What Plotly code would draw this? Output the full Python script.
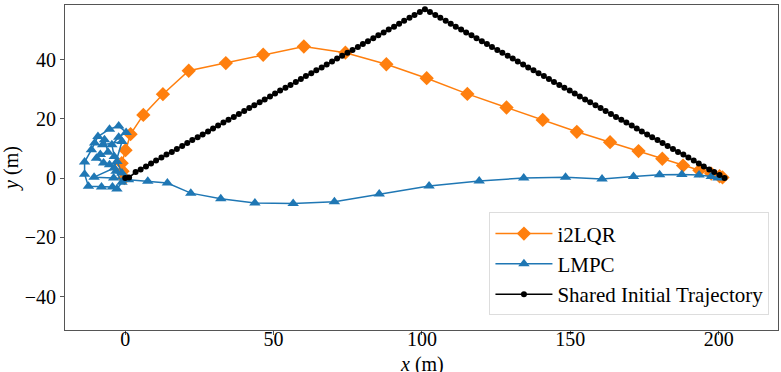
import plotly.graph_objects as go

# i2LQR trajectory (orange diamonds)
i2lqr_x = [-0.3, -0.9, -1.2, 0.1, 1.8, 6.1, 12.7, 21.4, 33.9, 46.5, 60.2, 74.2, 88.0, 101.6,
           115.3, 128.5, 140.7, 152.2, 163.4, 173.0, 181.0, 188.0, 193.5, 197.5, 200.3, 201.3]
i2lqr_y = [0.0, 2.3, 5.0, 9.4, 14.8, 21.3, 28.3, 36.2, 38.8, 41.6, 44.4, 42.3, 38.4, 33.7,
           28.4, 23.8, 19.6, 15.6, 12.1, 9.1, 6.5, 4.2, 2.6, 1.5, 0.6, 0.2]

# LMPC trajectory (blue triangles)
lmpc_x = [0.0, -1.1, -2.8, -3.7, -4.5, -2.2, 0.3, -2.2, -5.3, -9.2, -10.3, -11.4, -13.7, -13.7,
          -12.4, -8.0, -4.3, -2.8, -1.1, -3.1, -5.3, -7.3, -9.7, -8.4, -5.8, -7.0, -7.6, -1.1,
          -3.7, -10.5, -3.9, 1.1, 7.6, 14.2, 22.1, 32.2, 43.7, 56.6, 70.5, 85.6, 102.4, 119.3,
          134.3, 148.4, 160.7, 171.3, 180.1, 187.6, 193.4, 197.5, 199.8]
lmpc_y = [0.0, 1.7, 5.6, 7.3, 11.2, 13.8, 15.4, 17.6, 16.5, 14.0, 11.8, 9.5, 5.4, 1.3,
          -2.8, -3.0, -3.0, -3.7, -1.4, 2.3, 4.5, 5.1, 6.7, 7.9, 8.7, 12.9, 11.2, 12.3,
          3.4, 0.3, 0.0, -0.6, -1.1, -1.7, -5.1, -7.0, -8.4, -8.6, -8.0, -5.4, -2.7, -1.0,
          0.0, 0.3, -0.3, 0.5, 1.1, 1.2, 1.0, 0.5, 0.0]

# Shared initial trajectory (black dots)
init_x = [0.0, 1.3, 3.5, 5.2, 7.0, 8.7, 10.4, 12.2, 13.9, 15.7, 17.4, 19.2, 20.9, 22.6, 24.4,
          26.1, 27.9, 29.6, 31.3, 33.1, 34.8, 36.6, 38.3, 40.1, 41.8, 43.5, 45.3, 47.0, 48.8,
          50.5, 52.2, 54.0, 55.7, 57.5, 59.2, 60.9, 62.7, 64.4, 66.2, 67.9, 69.7, 71.4, 73.1,
          74.9, 76.6, 78.4, 80.1, 81.8, 83.6, 85.3, 87.1, 88.8, 90.6, 92.3, 94.0, 95.8, 97.5,
          99.3, 101.0, 102.7, 104.5, 106.2, 108.0, 109.7, 111.4, 113.2, 114.9, 116.7, 118.4,
          120.2, 121.9, 123.6, 125.4, 127.1, 128.9, 130.6, 132.3, 134.1, 135.8, 137.6, 139.3,
          141.1, 142.8, 144.5, 146.3, 148.0, 149.8, 151.5, 153.2, 155.0, 156.7, 158.5, 160.2,
          161.9, 163.7, 165.4, 167.2, 168.9, 170.7, 172.4, 174.1, 175.9, 177.6, 179.4, 181.1,
          182.8, 184.6, 186.3, 188.1, 189.8, 191.6, 193.3, 195.0, 196.8, 198.5, 200.3, 202.0]
init_y = [0.0, 0.2, 2.0, 2.9, 3.9, 4.9, 5.9, 6.9, 7.9, 8.8, 9.8, 10.8, 11.8, 12.8, 13.8,
          14.7, 15.7, 16.7, 17.7, 18.7, 19.7, 20.6, 21.6, 22.6, 23.6, 24.6, 25.6, 26.5, 27.5,
          28.5, 29.5, 30.5, 31.4, 32.4, 33.4, 34.4, 35.4, 36.4, 37.3, 38.3, 39.3, 40.3, 41.3,
          42.3, 43.2, 44.2, 45.2, 46.2, 47.2, 48.2, 49.1, 50.1, 51.1, 52.1, 53.1, 54.1, 55.0,
          56.0, 57.0, 56.0, 55.0, 54.1, 53.1, 52.1, 51.1, 50.1, 49.1, 48.2, 47.2,
          46.2, 45.2, 44.2, 43.2, 42.3, 41.3, 40.3, 39.3, 38.3, 37.3, 36.4, 35.4,
          34.4, 33.4, 32.4, 31.4, 30.5, 29.5, 28.5, 27.5, 26.5, 25.6, 24.6, 23.6,
          22.6, 21.6, 20.6, 19.7, 18.7, 17.7, 16.7, 15.7, 14.7, 13.8, 12.8, 11.8,
          10.8, 9.8, 8.8, 7.9, 6.9, 5.9, 4.9, 3.9, 2.9, 2.0, 1.0, 0.0]

x_ticks = [0, 50, 100, 150, 200]
y_ticks = [-40, -20, 0, 20, 40]

font_family = "Liberation Serif, Times New Roman, serif"

fig = go.Figure()

fig.add_trace(go.Scatter(
    x=i2lqr_x, y=i2lqr_y, mode='lines+markers', name='i2LQR',
    line=dict(color='#ff7f0e', width=1.5),
    marker=dict(symbol='diamond', size=11, color='#ff7f0e')
))
fig.add_trace(go.Scatter(
    x=lmpc_x, y=lmpc_y, mode='lines+markers', name='LMPC',
    line=dict(color='#1f77b4', width=1.5),
    marker=dict(symbol='triangle-up', size=10, color='#1f77b4')
))
fig.add_trace(go.Scatter(
    x=init_x, y=init_y, mode='lines+markers', name='Shared Initial Trajectory',
    line=dict(color='black', width=1.5),
    marker=dict(symbol='circle', size=6, color='black')
))

axis_style = dict(
    showgrid=False, zeroline=False, showline=True, mirror=True,
    linecolor='#555555', linewidth=1, automargin=False,
    ticks='outside', ticklen=4, tickcolor='#555555',
    tickfont=dict(family=font_family, size=20, color='black'),
)

fig.update_xaxes(range=[-20.3, 220], tickvals=x_ticks, ticklabelstandoff=-13,
                 **axis_style)
fig.update_yaxes(range=[-51.3, 58.4], tickvals=y_ticks,
                 title=dict(text='<i>y</i> (m)', font=dict(family=font_family, size=20, color='black'),
                            standoff=5),
                 **axis_style)

# x-axis label as a paper annotation, top edge pinned just under the tick labels
fig.add_annotation(
    text='<i>x</i> (m)', xref='paper', yref='paper', x=0.5, y=-0.066,
    xanchor='center', yanchor='top', showarrow=False,
    font=dict(family=font_family, size=20, color='black'),
)

fig.update_layout(
    width=781, height=372,
    margin=dict(l=65, r=3, t=5, b=42),
    plot_bgcolor='white', paper_bgcolor='white',
    font=dict(family=font_family, color='black'),
    showlegend=True,
    legend=dict(
        x=0.988, y=0.045, xanchor='right', yanchor='bottom',
        bgcolor='rgba(255,255,255,0.8)', bordercolor='#dddddd', borderwidth=1,
        font=dict(family=font_family, size=21, color='black'),
        itemwidth=57, tracegroupgap=0,
    ),
)

# drop the page's default body margin so the figure sits at the window corner
fig.write_html("out.html", config={'displayModeBar': False},
               post_script="document.body.style.margin='0';")
